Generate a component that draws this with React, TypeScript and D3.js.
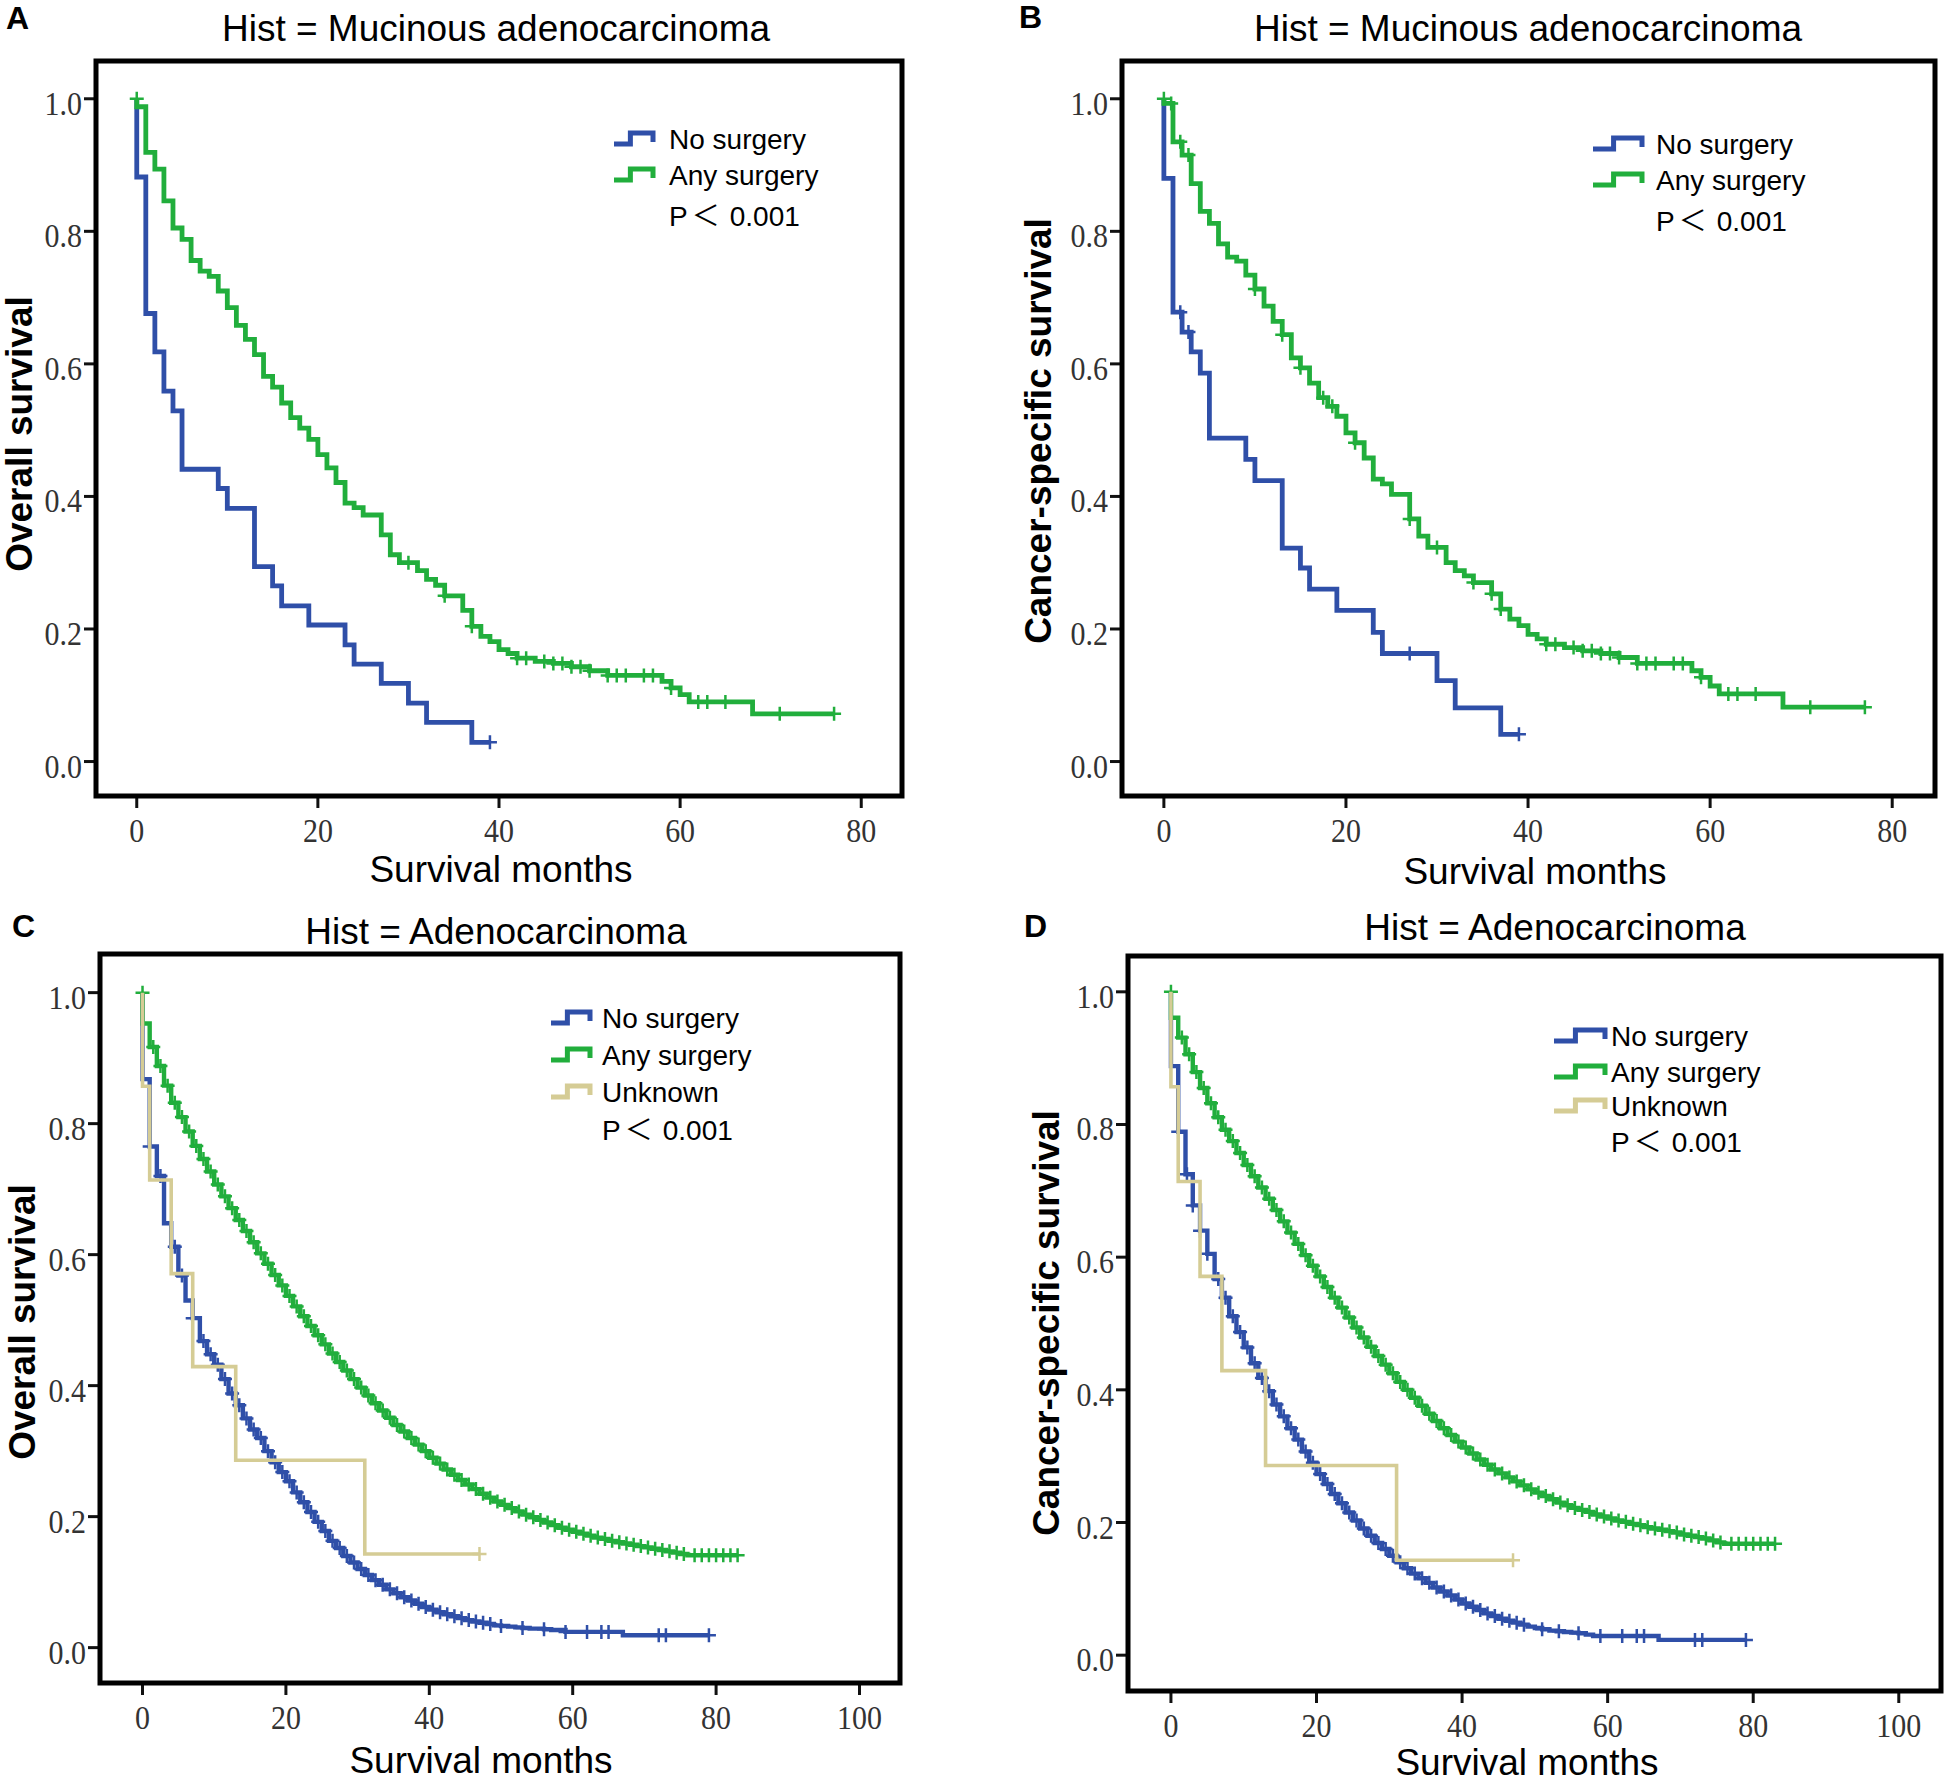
import React, { useEffect } from "react";
import * as d3 from "d3";

type Step = [number, number];

const SANS = "'Liberation Sans', Arial, Helvetica, sans-serif";
const SERIF = "'Liberation Serif', 'Times New Roman', serif";
const P_FONT = "'Liberation Sans', Arial, 'Noto Sans CJK SC', sans-serif";

const colors = { none: "#2f4fa8", any: "#21ae3c", unknown: "#d5cc95" };

const seriesLabels = ["No surgery", "Any surgery", "Unknown"];
const pValueParts = ["P", "\uFF1C", "0.001"];
const yTickValues = [0, 0.2, 0.4, 0.6, 0.8, 1.0];
const xTicksMucinous = [0, 20, 40, 60, 80];
const xTicksAdeno = [0, 20, 40, 60, 80, 100];

// ---- A: mucinous, overall survival ----
const mucOsNone: Step[] = [
  [0, 0.882], [1, 0.676], [2, 0.618], [3, 0.559], [4, 0.529], [5, 0.441], [9, 0.412], [10, 0.382],
  [13, 0.294], [15, 0.265], [16, 0.235], [19, 0.206], [23, 0.176], [24, 0.147], [27, 0.118],
  [30, 0.088], [32, 0.059], [37, 0.029],
];
const mucOsNoneCensor = [39];
const mucOsAny: Step[] = [
  [0, 0.988], [1, 0.919], [2, 0.894], [3, 0.846], [4, 0.805], [5, 0.788], [6, 0.756], [7, 0.74],
  [8, 0.732], [9, 0.71], [10, 0.685], [11, 0.658], [12, 0.637], [13, 0.614], [14, 0.581], [15, 0.565],
  [16, 0.541], [17, 0.519], [18, 0.503], [19, 0.486], [20, 0.463], [21, 0.443], [22, 0.421], [23, 0.39],
  [24, 0.383], [25, 0.372], [27, 0.342], [28, 0.312], [29, 0.3], [31, 0.288], [32, 0.275], [33, 0.266],
  [34, 0.25], [36, 0.228], [37, 0.204], [38, 0.189], [39, 0.181], [40, 0.169], [41, 0.163], [42, 0.156],
  [44, 0.151], [46, 0.148], [48, 0.143], [50, 0.137], [52, 0.13], [58, 0.121], [59, 0.111], [60, 0.101],
  [61, 0.09], [68, 0.072],
];
const mucOsAnyCensor = [0, 30, 34, 37, 42, 43, 45, 46, 47, 48, 49, 50, 52, 53, 54, 56, 57, 59, 62, 63, 65, 71, 77];

// ---- B: mucinous, cancer-specific survival ----
const mucCssNone: Step[] = [
  [0, 0.88], [1, 0.678], [2, 0.648], [3, 0.618], [4, 0.586], [5, 0.488], [9, 0.456], [10, 0.424],
  [13, 0.322], [15, 0.292], [16, 0.26], [19, 0.228], [23, 0.195], [24, 0.163], [30, 0.122],
  [32, 0.081], [37, 0.041],
];
const mucCssNoneCensor = [1.8, 2.7, 27, 39];
const mucCssAny: Step[] = [
  [0, 0.993], [1, 0.935], [2, 0.915], [3, 0.872], [4, 0.83], [5, 0.812], [6, 0.781], [7, 0.761],
  [8, 0.755], [9, 0.734], [10, 0.713], [11, 0.687], [12, 0.664], [13, 0.644], [14, 0.609], [15, 0.594],
  [16, 0.571], [17, 0.549], [18, 0.536], [19, 0.521], [20, 0.496], [21, 0.481], [22, 0.458], [23, 0.426],
  [24, 0.419], [25, 0.403], [27, 0.366], [28, 0.34], [29, 0.323], [31, 0.3], [32, 0.288], [33, 0.28],
  [34, 0.27], [36, 0.253], [37, 0.23], [38, 0.215], [39, 0.205], [40, 0.192], [41, 0.185], [42, 0.177],
  [44, 0.172], [46, 0.167], [48, 0.163], [50, 0.157], [52, 0.148], [58, 0.137], [59, 0.127], [60, 0.114],
  [61, 0.102], [68, 0.082],
];
const mucCssAnyCensor = [
  0, 0.8, 1.8, 2.7, 10, 13, 15, 17.5, 18.5, 21, 27, 30, 34, 36, 37, 42, 43, 45, 46, 47, 48, 49, 50,
  52, 53, 54, 56, 57, 59, 62, 63, 65, 71, 77,
];

// ---- C: adenocarcinoma, overall survival (monthly values, index = month) ----
const adenoOsNone = [
  0.868, 0.765, 0.72, 0.648, 0.612, 0.568, 0.53, 0.503, 0.468, 0.448, 0.432, 0.41, 0.388, 0.37, 0.35,
  0.333, 0.32, 0.3, 0.283, 0.268, 0.254, 0.237, 0.222, 0.207, 0.192, 0.178, 0.163, 0.152, 0.14, 0.13,
  0.12, 0.111, 0.103, 0.096, 0.089, 0.083, 0.077, 0.072, 0.067, 0.062, 0.058, 0.054, 0.051, 0.048,
  0.045, 0.042, 0.04, 0.038, 0.036, 0.034, 0.033, 0.032, 0.031, 0.03, 0.029, 0.029, 0.028, 0.027,
  0.027, 0.024,
];
const adenoOsNoneTail: Step[] = [[67, 0.019]];
const adenoOsNoneCensor = [
  1, 2.5, 4.5, 5.5, 7, 8.5, 9.5, 10.5, 11.5, 12.5, 13.5, 14.5, 15.5, 16.5, 17.5, 18.5, 19.5, 20.5,
  21.5, 22.5, 23.5, 24.5, 25.5, 26.5, 27.5, 28.5, 29.5, 30.5, 31.5, 32.5, 33.5, 34.5, 35.5, 36.5,
  37.5, 38.5, 39.5, 40.5, 41.5, 42.5, 43.5, 44.5, 45.5, 46.5, 47.5, 48.5, 50, 53, 56, 59, 62, 64, 65,
  72, 73, 79,
];
const adenoOsAny = [
  0.953, 0.917, 0.888, 0.858, 0.832, 0.81, 0.788, 0.766, 0.746, 0.727, 0.707, 0.689, 0.671, 0.653,
  0.636, 0.619, 0.602, 0.586, 0.569, 0.553, 0.537, 0.521, 0.506, 0.491, 0.477, 0.463, 0.449, 0.436,
  0.423, 0.41, 0.397, 0.385, 0.373, 0.362, 0.351, 0.34, 0.33, 0.32, 0.31, 0.3, 0.29, 0.281, 0.272,
  0.264, 0.256, 0.249, 0.242, 0.235, 0.229, 0.223, 0.218, 0.213, 0.208, 0.203, 0.199, 0.195, 0.191,
  0.187, 0.183, 0.18, 0.177, 0.174, 0.171, 0.168, 0.166, 0.163, 0.161, 0.159, 0.157, 0.155, 0.153,
  0.151, 0.149, 0.147, 0.145, 0.143, 0.141,
];
const adenoOsAnyCensor = [
  0, 1.5, 2.5, 3.5, 4.5, 5.5, 6.5, 7.5, 8.5, 9.5, 10.5, 11.5, 12.5, 13.5, 14.5, 15.5, 16.5, 17.5,
  18.5, 19.5, 20.5, 21.5, 22.5, 23.5, 24.5, 25.5, 26.5, 27.5, 28.5, 29.5, 30.5, 31.5, 32.5, 33.5,
  34.5, 35.5, 36.5, 37.5, 38.5, 39.5, 40.5, 41.5, 42.5, 43.5, 44.5, 45.5, 46.5, 47.5, 48.5, 49.5,
  50.5, 51.5, 52.5, 53.5, 54.5, 55.5, 56.5, 57.5, 58.5, 59.5, 60.5, 61.5, 62.5, 63.5, 64.5, 65.5,
  66.5, 67.5, 68.5, 69.5, 70.5, 71.5, 72.5, 73.5, 74.5, 75.5, 77, 78, 79, 80, 81, 82, 83,
];
const adenoOsUnknown: Step[] = [[0, 0.857], [1, 0.714], [4, 0.571], [7, 0.429], [13, 0.286], [31, 0.143]];
const adenoOsUnknownCensor = [47];

// ---- D: adenocarcinoma, cancer-specific survival ----
const adenoCssNone = [
  0.888, 0.789, 0.725, 0.678, 0.64, 0.605, 0.567, 0.539, 0.511, 0.487, 0.464, 0.44, 0.418, 0.398,
  0.378, 0.36, 0.342, 0.325, 0.307, 0.29, 0.273, 0.258, 0.243, 0.229, 0.215, 0.203, 0.191, 0.18,
  0.169, 0.16, 0.15, 0.14, 0.131, 0.123, 0.116, 0.109, 0.102, 0.096, 0.09, 0.084, 0.078, 0.073,
  0.068, 0.063, 0.059, 0.055, 0.052, 0.049, 0.046, 0.043, 0.041, 0.039, 0.037, 0.036, 0.035, 0.034,
  0.033, 0.031, 0.029,
];
const adenoCssNoneTail: Step[] = [[67, 0.023]];
const adenoCssNoneCensor = [
  1, 2.2, 3, 4, 5, 6.5, 7.5, 8.5, 9.5, 10.5, 11.5, 12.5, 13.5, 14.5, 15.5, 16.5, 17.5, 18.5, 19.5,
  20.5, 21.5, 22.5, 23.5, 24.5, 25.5, 26.5, 27.5, 28.5, 29.5, 30.5, 31.5, 32.5, 33.5, 34.5, 35.5,
  36.5, 37.5, 38.5, 39.5, 40.5, 41.5, 42.5, 43.5, 44.5, 45.5, 46.5, 47.5, 48.5, 51, 53.3, 56, 59, 62,
  64, 65, 72, 73, 79,
];
const adenoCssAny = [
  0.961, 0.931, 0.906, 0.879, 0.855, 0.832, 0.811, 0.792, 0.775, 0.757, 0.739, 0.722, 0.705, 0.688,
  0.671, 0.654, 0.637, 0.62, 0.603, 0.587, 0.571, 0.555, 0.539, 0.524, 0.509, 0.494, 0.479, 0.465,
  0.451, 0.438, 0.425, 0.412, 0.4, 0.388, 0.376, 0.364, 0.353, 0.342, 0.332, 0.322, 0.313, 0.304,
  0.295, 0.287, 0.28, 0.274, 0.268, 0.262, 0.256, 0.25, 0.245, 0.24, 0.235, 0.23, 0.226, 0.222, 0.219,
  0.216, 0.212, 0.209, 0.206, 0.203, 0.201, 0.198, 0.196, 0.193, 0.191, 0.189, 0.187, 0.185, 0.182,
  0.18, 0.178, 0.176, 0.173, 0.17, 0.168,
];
const adenoCssAnyCensor = adenoOsAnyCensor;
const adenoCssUnknown: Step[] = [[0, 0.857], [1, 0.714], [4, 0.571], [7, 0.429], [13, 0.286], [31, 0.143]];
const adenoCssUnknownCensor = [47];

const monthly = (values: number[], tail: Step[] = []): Step[] => [
  ...values.map((v, i) => [i, v] as Step),
  ...tail,
];

interface Curve {
  steps: Step[];
  end: number;
  censor: number[];
  color: string;
  width: number;
}

interface PanelSpec {
  letter: string;
  letterPos: [number, number];
  title: string;
  titlePos: [number, number];
  yLabel: string;
  yLabelPos: [number, number];
  xLabelPos: [number, number];
  frame: { x0: number; y0: number; x1: number; y1: number };
  xDomain: [number, number];
  yDomain: [number, number];
  xTicks: number[];
  curves: Curve[];
  legend: { sx0: number; sx1: number; textX: number; rows: number[]; pY: number };
}

const panels: PanelSpec[] = [
  {
    letter: "A",
    letterPos: [6, 29],
    title: "Hist = Mucinous adenocarcinoma",
    titlePos: [496, 41],
    yLabel: "Overall survival",
    yLabelPos: [32, 434],
    xLabelPos: [501, 882],
    frame: { x0: 96, y0: 61, x1: 902, y1: 796 },
    xDomain: [-4.5, 84.5],
    yDomain: [-0.052, 1.057],
    xTicks: xTicksMucinous,
    curves: [
      { steps: mucOsNone, end: 39, censor: mucOsNoneCensor, color: colors.none, width: 4.8 },
      { steps: mucOsAny, end: 77, censor: mucOsAnyCensor, color: colors.any, width: 4.8 },
    ],
    legend: { sx0: 614, sx1: 653, textX: 669, rows: [139, 175], pY: 216 },
  },
  {
    letter: "B",
    letterPos: [1019, 28],
    title: "Hist = Mucinous adenocarcinoma",
    titlePos: [1528, 41],
    yLabel: "Cancer-specific survival",
    yLabelPos: [1051, 431],
    xLabelPos: [1535, 884],
    frame: { x0: 1122, y0: 61, x1: 1935, y1: 796 },
    xDomain: [-4.6, 84.7],
    yDomain: [-0.052, 1.057],
    xTicks: xTicksMucinous,
    curves: [
      { steps: mucCssNone, end: 39, censor: mucCssNoneCensor, color: colors.none, width: 4.8 },
      { steps: mucCssAny, end: 77, censor: mucCssAnyCensor, color: colors.any, width: 4.8 },
    ],
    legend: { sx0: 1593, sx1: 1642, textX: 1656, rows: [144, 180], pY: 221 },
  },
  {
    letter: "C",
    letterPos: [12, 937],
    title: "Hist = Adenocarcinoma",
    titlePos: [496, 944],
    yLabel: "Overall survival",
    yLabelPos: [35, 1322],
    xLabelPos: [481, 1773],
    frame: { x0: 100, y0: 954, x1: 900, y1: 1683 },
    xDomain: [-5.93, 105.65],
    yDomain: [-0.054, 1.059],
    xTicks: xTicksAdeno,
    curves: [
      { steps: monthly(adenoOsNone, adenoOsNoneTail), end: 79, censor: adenoOsNoneCensor, color: colors.none, width: 4.4 },
      { steps: monthly(adenoOsAny), end: 83, censor: adenoOsAnyCensor, color: colors.any, width: 4.4 },
      { steps: adenoOsUnknown, end: 47, censor: adenoOsUnknownCensor, color: colors.unknown, width: 3.6 },
    ],
    legend: { sx0: 551, sx1: 590, textX: 602, rows: [1018, 1055, 1092], pY: 1130 },
  },
  {
    letter: "D",
    letterPos: [1024, 937],
    title: "Hist = Adenocarcinoma",
    titlePos: [1555, 940],
    yLabel: "Cancer-specific survival",
    yLabelPos: [1059, 1323],
    xLabelPos: [1527, 1775],
    frame: { x0: 1128, y0: 956, x1: 1941, y1: 1691 },
    xDomain: [-5.9, 105.8],
    yDomain: [-0.054, 1.054],
    xTicks: xTicksAdeno,
    curves: [
      { steps: monthly(adenoCssNone, adenoCssNoneTail), end: 79, censor: adenoCssNoneCensor, color: colors.none, width: 4.4 },
      { steps: monthly(adenoCssAny), end: 83, censor: adenoCssAnyCensor, color: colors.any, width: 4.4 },
      { steps: adenoCssUnknown, end: 47, censor: adenoCssUnknownCensor, color: colors.unknown, width: 3.6 },
    ],
    legend: { sx0: 1554, sx1: 1605, textX: 1611, rows: [1036, 1072, 1106], pY: 1142 },
  },
];

// survival value of a step function at time t (censor at time 0 sits on 1.0)
const survivalAt = (steps: Step[], t: number) => {
  if (t <= 0) return 1;
  let v = 1;
  for (const [st, sv] of steps) {
    if (st <= t) v = sv;
    else break;
  }
  return v;
};

const fmt = d3.format(".1f");

function KMPanel({ panel }: { panel: PanelSpec }) {
  const { frame, legend } = panel;
  const x = d3.scaleLinear().domain(panel.xDomain).range([frame.x0, frame.x1]);
  const y = d3.scaleLinear().domain(panel.yDomain).range([frame.y1, frame.y0]);
  const line = d3
    .line<Step>()
    .x((d) => x(d[0]))
    .y((d) => y(d[1]))
    .curve(d3.curveStepAfter);

  return (
    <g>
      {/* panel letter and title */}
      <text x={panel.letterPos[0]} y={panel.letterPos[1]} fontFamily={SANS} fontWeight="bold" fontSize={32}>
        {panel.letter}
      </text>
      <text x={panel.titlePos[0]} y={panel.titlePos[1]} fontFamily={SANS} fontSize={37} textAnchor="middle">
        {panel.title}
      </text>

      {/* y axis ticks */}
      {yTickValues.map((v) => (
        <g key={"y" + v}>
          <line x1={frame.x0 - 12} x2={frame.x0} y1={y(v)} y2={y(v)} stroke="#111" strokeWidth={3} />
          <text
            transform={`translate(${frame.x0 - 14},${y(v) + 16}) scale(1,1.15)`}
            fontFamily={SERIF}
            fontSize={30}
            fill="#333"
            textAnchor="end"
          >
            {fmt(v)}
          </text>
        </g>
      ))}

      {/* x axis ticks */}
      {panel.xTicks.map((t) => (
        <g key={"x" + t}>
          <line x1={x(t)} x2={x(t)} y1={frame.y1} y2={frame.y1 + 12} stroke="#111" strokeWidth={3} />
          <text
            transform={`translate(${x(t)},${frame.y1 + 46}) scale(1,1.15)`}
            fontFamily={SERIF}
            fontSize={30}
            fill="#333"
            textAnchor="middle"
          >
            {t}
          </text>
        </g>
      ))}

      {/* curves */}
      {panel.curves.map((c, i) => {
        const last = c.steps[c.steps.length - 1][1];
        const pts: Step[] = [[0, 1], ...c.steps, [c.end, last]];
        return (
          <g key={"c" + i}>
            <path d={line(pts) || ""} fill="none" stroke={c.color} strokeWidth={c.width} strokeLinejoin="miter" />
            {c.censor.map((t, j) => {
              const px = x(t);
              const py = y(survivalAt(c.steps, t));
              return (
                <path
                  key={j}
                  d={`M${px},${py - 7}V${py + 7}M${px - 7},${py}H${px + 7}`}
                  stroke={c.color}
                  strokeWidth={2.5}
                  fill="none"
                />
              );
            })}
          </g>
        );
      })}

      {/* frame */}
      <rect
        x={frame.x0}
        y={frame.y0}
        width={frame.x1 - frame.x0}
        height={frame.y1 - frame.y0}
        fill="none"
        stroke="#000"
        strokeWidth={5}
      />

      {/* legend */}
      {panel.curves.map((c, i) => {
        const cy = legend.rows[i];
        const mid = legend.sx0 + (legend.sx1 - legend.sx0) * 0.42;
        return (
          <g key={"l" + i}>
            <path
              d={`M${legend.sx0},${cy + 5}H${mid}V${cy - 6}H${legend.sx1}V${cy + 3}`}
              fill="none"
              stroke={c.color}
              strokeWidth={5}
            />
            <text x={legend.textX} y={cy + 10} fontFamily={SANS} fontSize={28}>
              {seriesLabels[i]}
            </text>
          </g>
        );
      })}
      <text x={legend.textX} y={legend.pY + 10} fontFamily={P_FONT} fontSize={28}>
        <tspan>{pValueParts[0]}</tspan>
        <tspan dx={4}>{pValueParts[1]}</tspan>
        <tspan dx={10}>{pValueParts[2]}</tspan>
      </text>

      {/* axis titles */}
      <text x={panel.xLabelPos[0]} y={panel.xLabelPos[1]} fontFamily={SANS} fontSize={37} textAnchor="middle">
        Survival months
      </text>
      <text
        transform={`translate(${panel.yLabelPos[0]},${panel.yLabelPos[1]}) rotate(-90)`}
        fontFamily={SANS}
        fontWeight="bold"
        fontSize={37}
        textAnchor="middle"
      >
        {panel.yLabel}
      </text>
    </g>
  );
}

export default function App() {
  useEffect(() => {
    document.body.style.margin = "0";
  }, []);
  return (
    <svg width={1946} height={1784} viewBox="0 0 1946 1784" style={{ display: "block", background: "#fff" }}>
      <rect width={1946} height={1784} fill="#fff" />
      {panels.map((p) => (
        <KMPanel key={p.letter} panel={p} />
      ))}
    </svg>
  );
}
